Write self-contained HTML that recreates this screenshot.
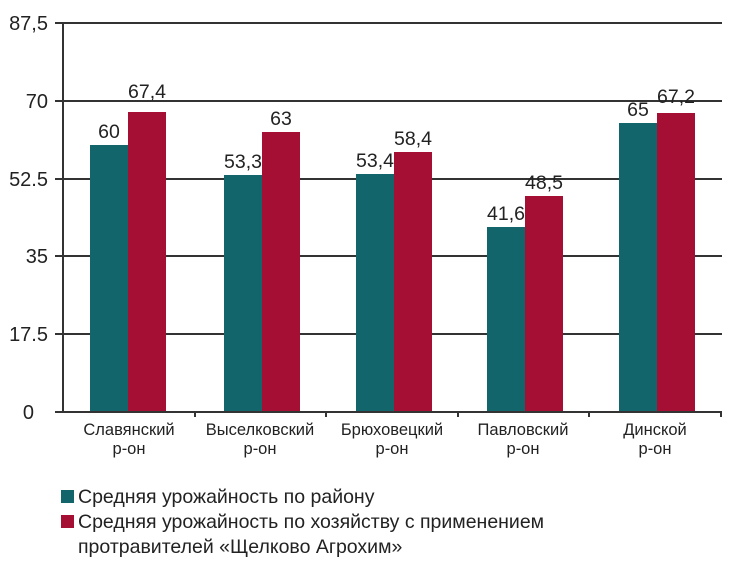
<!DOCTYPE html>
<html><head><meta charset="utf-8"><style>
body{margin:0;background:#fff;}
svg text{font-family:"Liberation Sans","DejaVu Sans",sans-serif;fill:#222;}
</style></head><body>
<svg width="750" height="577" viewBox="0 0 750 577" xmlns="http://www.w3.org/2000/svg">
<g stroke="#333" stroke-width="2">
<line x1="55" y1="23" x2="722" y2="23"/>
<line x1="55" y1="101" x2="722" y2="101"/>
<line x1="55" y1="179" x2="722" y2="179"/>
<line x1="55" y1="256" x2="722" y2="256"/>
<line x1="55" y1="334" x2="722" y2="334"/>
<line x1="63" y1="23" x2="63" y2="412"/>
</g>
<g font-size="20" text-anchor="end">
<text x="48" y="30">87,5</text>
<text x="48" y="108">70</text>
<text x="48" y="186">52.5</text>
<text x="48" y="263">35</text>
<text x="48" y="341">17.5</text>
<text x="34" y="419">0</text>
</g>
<g fill="#12666b">
<rect x="90" y="145" width="38" height="267"/>
<rect x="224" y="175" width="38" height="237"/>
<rect x="356" y="174" width="38" height="238"/>
<rect x="487" y="227" width="38" height="185"/>
<rect x="619" y="123" width="38" height="289"/>
</g>
<g fill="#a50f34">
<rect x="128" y="112" width="38" height="300"/>
<rect x="262" y="132" width="38" height="280"/>
<rect x="394" y="152" width="38" height="260"/>
<rect x="525" y="196" width="38" height="216"/>
<rect x="657" y="113" width="38" height="299"/>
</g>
<g stroke="#333" stroke-width="2">
<line x1="55" y1="412" x2="722" y2="412"/>
<line x1="195" y1="412" x2="195" y2="417"/>
<line x1="326" y1="412" x2="326" y2="417"/>
<line x1="458" y1="412" x2="458" y2="417"/>
<line x1="589" y1="412" x2="589" y2="417"/>
<line x1="721" y1="412" x2="721" y2="417"/>
</g>
<g font-size="19.5" text-anchor="middle">
<text x="109" y="138">60</text>
<text x="147" y="98">67,4</text>
<text x="243" y="168">53,3</text>
<text x="281" y="125">63</text>
<text x="375" y="167">53,4</text>
<text x="413" y="145">58,4</text>
<text x="506" y="220">41,6</text>
<text x="544" y="189">48,5</text>
<text x="638" y="116">65</text>
<text x="676" y="103">67,2</text>
</g>
<g font-size="16.5" text-anchor="middle">
<text x="129" y="435">Славянский</text><text x="129" y="454">р-он</text>
<text x="260" y="435">Выселковский</text><text x="260" y="454">р-он</text>
<text x="392" y="435">Брюховецкий</text><text x="392" y="454">р-он</text>
<text x="523" y="435">Павловский</text><text x="523" y="454">р-он</text>
<text x="655" y="435">Динской</text><text x="655" y="454">р-он</text>
</g>
<rect x="61" y="490" width="13" height="13" fill="#12666b"/>
<rect x="61" y="515" width="13" height="13" fill="#a50f34"/>
<g font-size="19.5">
<text x="78" y="503">Средняя урожайность по району</text>
<text x="78" y="528">Средняя урожайность по хозяйству с применением</text>
<text x="78" y="553">протравителей «Щелково Агрохим»</text>
</g>
</svg>
</body></html>
